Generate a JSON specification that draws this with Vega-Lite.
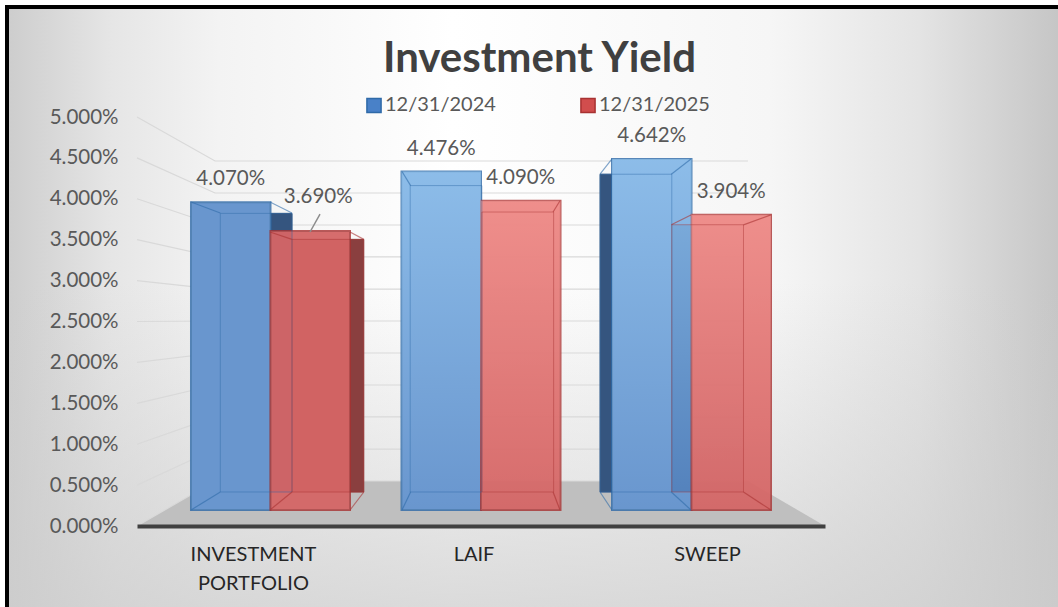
{"$schema":"https://vega.github.io/schema/vega-lite/v6.json","width":688,"height":409,"padding":{"left":137,"top":117,"right":233,"bottom":81},"autosize":{"type":"none"},"background":"white",
"title":{"text":"Investment Yield","font":"Lato","fontSize":42,"fontWeight":"bold","color":"#404040","anchor":"start","frame":"group","dx":246,"offset":-76},
"datasets":{
"bars":[
{"cat":"INVESTMENT PORTFOLIO","series":"12/31/2024","value":4.07,"label":"4.070%"},
{"cat":"INVESTMENT PORTFOLIO","series":"12/31/2025","value":3.69,"label":"3.690%"},
{"cat":"LAIF","series":"12/31/2024","value":4.476,"label":"4.476%"},
{"cat":"LAIF","series":"12/31/2025","value":4.09,"label":"4.090%"},
{"cat":"SWEEP","series":"12/31/2024","value":4.642,"label":"4.642%"},
{"cat":"SWEEP","series":"12/31/2025","value":3.904,"label":"3.904%"}],
"floor":[{"f":0,"h":0},{"f":0.1134,"h":0.55},{"f":0.888,"h":0.55},{"f":1,"h":0}],
"leader":[{"f":0.266,"h":3.814},{"f":0.2515,"h":3.594}],
"edges":[
{"id":"b1a","s":"12/31/2024","f":0.0785,"h":3.961},{"id":"b1a","s":"12/31/2024","f":0.1211,"h":3.826},
{"id":"b1b","s":"12/31/2024","f":0.1933,"h":3.961},{"id":"b1b","s":"12/31/2024","f":0.2253,"h":3.826},
{"id":"b1c","s":"12/31/2024","f":0.0785,"h":0.1956},{"id":"b1c","s":"12/31/2024","f":0.1211,"h":0.4156},
{"id":"r1a","s":"12/31/2025","f":0.1933,"h":3.594},{"id":"r1a","s":"12/31/2025","f":0.2253,"h":3.504},
{"id":"r1b","s":"12/31/2025","f":0.3096,"h":3.594},{"id":"r1b","s":"12/31/2025","f":0.3297,"h":3.504},
{"id":"r1c","s":"12/31/2025","f":0.1933,"h":0.1956},{"id":"r1c","s":"12/31/2025","f":0.2253,"h":0.4156},
{"id":"r1d","s":"12/31/2025","f":0.3096,"h":0.1956},{"id":"r1d","s":"12/31/2025","f":0.3297,"h":0.4156},
{"id":"lba","s":"12/31/2024","f":0.3852,"h":4.333},{"id":"lba","s":"12/31/2024","f":0.3977,"h":4.161},
{"id":"lbc","s":"12/31/2024","f":0.3852,"h":0.1956},{"id":"lbc","s":"12/31/2024","f":0.3977,"h":0.4156},
{"id":"lrb","s":"12/31/2025","f":0.6148,"h":3.976},{"id":"lrb","s":"12/31/2025","f":0.6048,"h":3.839},
{"id":"lrd","s":"12/31/2025","f":0.6148,"h":0.1956},{"id":"lrd","s":"12/31/2025","f":0.6048,"h":0.4156},
{"id":"sba","s":"12/31/2024","f":0.6904,"h":4.487},{"id":"sba","s":"12/31/2024","f":0.673,"h":4.301},
{"id":"sbb","s":"12/31/2024","f":0.8052,"h":4.487},{"id":"sbb","s":"12/31/2024","f":0.7766,"h":4.301},
{"id":"sbc","s":"12/31/2024","f":0.6904,"h":0.1956},{"id":"sbc","s":"12/31/2024","f":0.673,"h":0.4156},
{"id":"sbd","s":"12/31/2024","f":0.8052,"h":0.1956},{"id":"sbd","s":"12/31/2024","f":0.7766,"h":0.4156},
{"id":"sra","s":"12/31/2025","f":0.8052,"h":3.803},{"id":"sra","s":"12/31/2025","f":0.7766,"h":3.682},
{"id":"srb","s":"12/31/2025","f":0.9215,"h":3.803},{"id":"srb","s":"12/31/2025","f":0.8815,"h":3.682},
{"id":"srd","s":"12/31/2025","f":0.9215,"h":0.1956},{"id":"srd","s":"12/31/2025","f":0.8815,"h":0.4156}],
"walls":[
{"v":0,"f":0,"h":0},{"v":0,"f":0.1134,"h":0.55},{"v":0,"f":0.888,"h":0.55},
{"v":0.5,"f":0,"h":0.5},{"v":0.5,"f":0.1134,"h":0.941},{"v":0.5,"f":0.888,"h":0.941},
{"v":1,"f":0,"h":1},{"v":1,"f":0.1134,"h":1.333},{"v":1,"f":0.888,"h":1.333},
{"v":1.5,"f":0,"h":1.5},{"v":1.5,"f":0.1134,"h":1.724},{"v":1.5,"f":0.888,"h":1.724},
{"v":2,"f":0,"h":2},{"v":2,"f":0.1134,"h":2.115},{"v":2,"f":0.888,"h":2.115},
{"v":2.5,"f":0,"h":2.5},{"v":2.5,"f":0.1134,"h":2.506},{"v":2.5,"f":0.888,"h":2.506},
{"v":3,"f":0,"h":3},{"v":3,"f":0.1134,"h":2.897},{"v":3,"f":0.888,"h":2.897},
{"v":3.5,"f":0,"h":3.5},{"v":3.5,"f":0.1134,"h":3.289},{"v":3.5,"f":0.888,"h":3.289},
{"v":4,"f":0,"h":4},{"v":4,"f":0.1134,"h":3.68},{"v":4,"f":0.888,"h":3.68},
{"v":4.5,"f":0,"h":4.5},{"v":4.5,"f":0.1134,"h":4.071},{"v":4.5,"f":0.888,"h":4.071},
{"v":5,"f":0,"h":5},{"v":5,"f":0.1134,"h":4.462},{"v":5,"f":0.888,"h":4.462}]
},
"data":{"name":"bars"},
"resolve":{"scale":{"x":"independent","y":"independent","xOffset":"independent"}},
"layer":[
{"data":{"values":[{"r":1}]},"mark":{"type":"rect","clip":false,"stroke":"#000000","strokeWidth":4,"fill":{"gradient":"linear","x1":0,"y1":0,"x2":1,"y2":0,"stops":[{"offset":0,"color":"#cdcdcd"},{"offset":0.1,"color":"#e6e6e6"},{"offset":0.2,"color":"#f3f3f3"},{"offset":0.42,"color":"#ffffff"},{"offset":0.72,"color":"#f6f6f6"},{"offset":0.86,"color":"#e4e4e4"},{"offset":1,"color":"#c4c4c4"}]}},"encoding":{"x":{"value":-130},"x2":{"value":930},"y":{"value":-110},"y2":{"value":500}}},
{"data":{"values":[{"r":1}]},"mark":{"type":"rect","clip":false,"fill":{"gradient":"linear","x1":0,"y1":0,"x2":0,"y2":1,"stops":[{"offset":0,"color":"rgba(205,205,205,0)"},{"offset":0.45,"color":"rgba(205,205,205,0)"},{"offset":1,"color":"rgba(205,205,205,0.75)"}]}},"encoding":{"x":{"value":-128},"x2":{"value":930},"y":{"value":-108},"y2":{"value":500}}},
{"data":{"name":"floor"},"mark":{"type":"area","color":"#bfbfbf"},"encoding":{"x":{"field":"f","type":"quantitative","scale":{"domain":[0,1]},"axis":null},"y":{"field":"h","type":"quantitative","scale":{"domain":[0,5]},"axis":null},"y2":{"datum":0}}},
{"data":{"name":"walls"},"mark":{"type":"line","color":"#d9d9d9","strokeWidth":1.2},"encoding":{"detail":{"field":"v"},"x":{"field":"f","type":"quantitative","scale":{"domain":[0,1]},"axis":null},"y":{"field":"h","type":"quantitative","scale":{"domain":[0,5]},"axis":{"title":null,"zindex":1,"values":[0,0.5,1,1.5,2,2.5,3,3.5,4,4.5,5],"labelExpr":"format(datum.value,'.3f')+'%'","labelFont":"Lato","labelFontSize":20.5,"labelColor":"#595959","domain":false,"ticks":false,"grid":false,"labelPadding":19}}}},

{"transform":[{"filter":"datum.series=='12/31/2024' && datum.cat!='LAIF'"}],"mark":{"type":"bar","fill":"#35557f","stroke":"#35557f"},"encoding":{
"x":{"field":"cat","type":"nominal","axis":null,"scale":{"domain":["INVESTMENT PORTFOLIO","LAIF","SWEEP"],"paddingInner":0.2447,"paddingOuter":0.2565,"range":[34.6,655.2]}},
"xOffset":{"field":"series","scale":{"domain":["12/31/2024","12/31/2025"]}},
"y":{"field":"value","type":"quantitative","axis":null,"scale":{"domain":[-0.4967,5.478]}},"y2":{"datum":0}}},
{"transform":[{"filter":"datum.series=='12/31/2024'"}],"mark":{"type":"bar","fill":"#ebebeb"},"encoding":{
"x":{"field":"cat","type":"nominal","axis":null,"scale":{"domain":["INVESTMENT PORTFOLIO","LAIF","SWEEP"],"paddingInner":0.2447,"paddingOuter":0.2565}},
"xOffset":{"field":"series","scale":{"domain":["12/31/2024","12/31/2025"]}},
"y":{"field":"value","type":"quantitative","axis":null,"scale":{"domain":[-0.2116,5.198]}},"y2":{"datum":0}}},
{"transform":[{"filter":"datum.series=='12/31/2024'"}],"mark":{"type":"bar","opacity":0.8,"stroke":"#2f6aa8","strokeWidth":2},"encoding":{
"x":{"field":"cat","type":"nominal","scale":{"domain":["INVESTMENT PORTFOLIO","LAIF","SWEEP"],"paddingInner":0.2447,"paddingOuter":0.2565},"axis":{"title":null,"zindex":1,"labelAngle":0,"labelFont":"Lato","labelFontSize":20,"labelColor":"#262626","domain":true,"domainColor":"#404040","domainWidth":4,"ticks":false,"labelPadding":18,"labelLineHeight":29,"labelExpr":"datum.label=='INVESTMENT PORTFOLIO'?['INVESTMENT','PORTFOLIO']:datum.label","labelOffset":{"condition":[{"test":"datum.label=='LAIF'","value":-7},{"test":"datum.label=='SWEEP'","value":16}],"value":-17}}},
"xOffset":{"field":"series","scale":{"domain":["12/31/2024","12/31/2025"]}},
"y":{"field":"value","type":"quantitative","axis":null,"scale":{"domain":[-0.2116,5.198]}},"y2":{"datum":0},
"color":{"field":"series","type":"nominal","scale":{"domain":["12/31/2024","12/31/2025"],"range":["#4981c8","#d14d4d"]},"legend":{"title":null,"orient":"none","legendX":227,"legendY":-22,"direction":"horizontal","columns":2,"labelFont":"Lato","labelFontSize":20,"labelColor":"#595959","symbolType":"square","symbolSize":200,"symbolOpacity":1,"symbolStrokeWidth":1.5,"columnPadding":81,"labelOffset":1}}}},
{"transform":[{"filter":"datum.series=='12/31/2025' && datum.cat=='SWEEP'"}],"mark":{"type":"bar","fill":"#1f4f8f","opacity":0.3},"encoding":{
"x":{"field":"cat","type":"nominal","axis":null,"scale":{"domain":["INVESTMENT PORTFOLIO","LAIF","SWEEP"],"paddingInner":0.2447,"paddingOuter":0.2565,"range":[34.6,655.2]}},
"xOffset":{"field":"series","scale":{"domain":["12/31/2024","12/31/2025"]}},
"y":{"field":"value","type":"quantitative","axis":null,"scale":{"domain":[-0.4967,5.478]}},"y2":{"datum":0}}},
{"transform":[{"filter":"datum.series=='12/31/2025' && datum.cat=='INVESTMENT PORTFOLIO'"}],"mark":{"type":"bar","fill":"#8a3f3f","stroke":"#8a3f3f"},"encoding":{
"x":{"field":"cat","type":"nominal","axis":null,"scale":{"domain":["INVESTMENT PORTFOLIO","LAIF","SWEEP"],"paddingInner":0.2447,"paddingOuter":0.2565,"range":[34.6,655.2]}},
"xOffset":{"field":"series","scale":{"domain":["12/31/2024","12/31/2025"]}},
"y":{"field":"value","type":"quantitative","axis":null,"scale":{"domain":[-0.4967,5.478]}},"y2":{"datum":0}}},
{"transform":[{"filter":"datum.series=='12/31/2025'"}],"mark":{"type":"bar","fill":"#ebebeb","opacity":0.75},"encoding":{
"x":{"field":"cat","type":"nominal","axis":null,"scale":{"domain":["INVESTMENT PORTFOLIO","LAIF","SWEEP"],"paddingInner":0.2447,"paddingOuter":0.2565}},
"xOffset":{"field":"series","scale":{"domain":["12/31/2024","12/31/2025"]}},
"y":{"field":"value","type":"quantitative","axis":null,"scale":{"domain":[-0.2116,5.198]}},"y2":{"datum":0}}},
{"transform":[{"filter":"datum.series=='12/31/2025'"}],"mark":{"type":"bar","opacity":0.8,"stroke":"#a83232","strokeWidth":2},"encoding":{
"x":{"field":"cat","type":"nominal","axis":null,"scale":{"domain":["INVESTMENT PORTFOLIO","LAIF","SWEEP"],"paddingInner":0.2447,"paddingOuter":0.2565}},
"xOffset":{"field":"series","scale":{"domain":["12/31/2024","12/31/2025"]}},
"y":{"field":"value","type":"quantitative","axis":null,"scale":{"domain":[-0.2116,5.198]}},"y2":{"datum":0},
"color":{"field":"series","type":"nominal","scale":{"domain":["12/31/2024","12/31/2025"],"range":["#4981c8","#d14d4d"]},"legend":null}}},
{"transform":[{"filter":"datum.cat!='INVESTMENT PORTFOLIO' && datum.series=='12/31/2024'"}],"mark":{"type":"bar","fill":{"gradient":"linear","x1":0,"y1":0,"x2":0,"y2":1,"stops":[{"offset":0,"color":"rgba(170,220,255,0.55)"},{"offset":1,"color":"rgba(170,220,255,0)"}]}},"encoding":{
"x":{"field":"cat","type":"nominal","axis":null,"scale":{"domain":["INVESTMENT PORTFOLIO","LAIF","SWEEP"],"paddingInner":0.2447,"paddingOuter":0.2565}},
"xOffset":{"field":"series","scale":{"domain":["12/31/2024","12/31/2025"]}},
"y":{"field":"value","type":"quantitative","axis":null,"scale":{"domain":[-0.2116,5.198]}},"y2":{"datum":0}}},
{"transform":[{"filter":"datum.cat!='INVESTMENT PORTFOLIO' && datum.series=='12/31/2025'"}],"mark":{"type":"bar","fill":{"gradient":"linear","x1":0,"y1":0,"x2":0,"y2":1,"stops":[{"offset":0,"color":"rgba(255,165,160,0.6)"},{"offset":1,"color":"rgba(255,165,160,0)"}]}},"encoding":{
"x":{"field":"cat","type":"nominal","axis":null,"scale":{"domain":["INVESTMENT PORTFOLIO","LAIF","SWEEP"],"paddingInner":0.2447,"paddingOuter":0.2565}},
"xOffset":{"field":"series","scale":{"domain":["12/31/2024","12/31/2025"]}},
"y":{"field":"value","type":"quantitative","axis":null,"scale":{"domain":[-0.2116,5.198]}},"y2":{"datum":0}}},
{"mark":{"type":"bar","fill":null,"strokeWidth":1,"strokeOpacity":0.45},"encoding":{
"x":{"field":"cat","type":"nominal","axis":null,"scale":{"domain":["INVESTMENT PORTFOLIO","LAIF","SWEEP"],"paddingInner":0.2447,"paddingOuter":0.2565,"range":[34.6,655.2]}},
"xOffset":{"field":"series","scale":{"domain":["12/31/2024","12/31/2025"]}},
"y":{"field":"value","type":"quantitative","axis":null,"scale":{"domain":[-0.4967,5.478]}},"y2":{"datum":0},
"stroke":{"field":"series","type":"nominal","scale":{"domain":["12/31/2024","12/31/2025"],"range":["#2f6aa8","#a83232"]},"legend":null}}},
{"data":{"name":"edges"},"mark":{"type":"line","strokeWidth":1.2,"opacity":0.6},"encoding":{"detail":{"field":"id"},"x":{"field":"f","type":"quantitative","scale":{"domain":[0,1]},"axis":null},"y":{"field":"h","type":"quantitative","scale":{"domain":[0,5]},"axis":null},
"stroke":{"field":"s","type":"nominal","scale":{"domain":["12/31/2024","12/31/2025"],"range":["#2f6aa8","#a83232"]},"legend":null}}},
{"data":{"name":"leader"},"mark":{"type":"line","color":"#8c8c8c","strokeWidth":1.5},"encoding":{"x":{"field":"f","type":"quantitative","scale":{"domain":[0,1]},"axis":null},"y":{"field":"h","type":"quantitative","scale":{"domain":[0,5]},"axis":null}}},
{"mark":{"type":"text","font":"Lato","fontSize":20.5,"color":"#595959","baseline":"middle","dy":{"expr":"datum.label=='3.690%'?-34:-23"},"dx":{"expr":"datum.label=='3.690%'?8:0"}},"encoding":{
"x":{"field":"cat","type":"nominal","axis":null,"scale":{"domain":["INVESTMENT PORTFOLIO","LAIF","SWEEP"],"paddingInner":0.2447,"paddingOuter":0.2565}},
"xOffset":{"field":"series","scale":{"domain":["12/31/2024","12/31/2025"]}},
"y":{"field":"value","type":"quantitative","axis":null,"scale":{"domain":[-0.2116,5.198]}},
"text":{"field":"label","type":"nominal"}}}
],
"config":{"view":{"stroke":null}}}
